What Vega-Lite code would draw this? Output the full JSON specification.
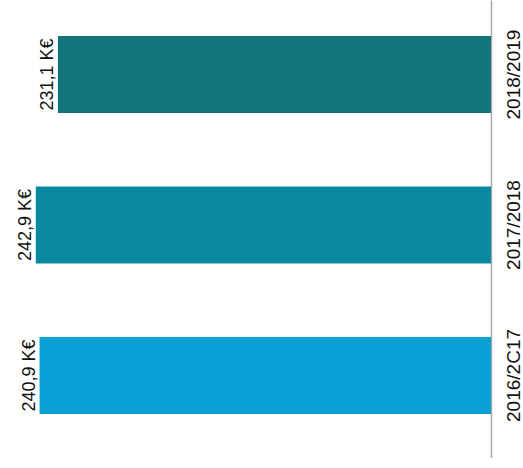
{
  "$schema": "https://vega.github.io/schema/vega-lite/v6.json",
  "width": 491,
  "height": 458,
  "padding": 0,
  "background": "white",
  "config": {"view": {"stroke": null}},
  "data": {"values": [
    {"year": "2018/2019", "value": 231.1, "label": "231,1 K€"},
    {"year": "2017/2018", "value": 242.9, "label": "242,9 K€"},
    {"year": "2016/2C17", "value": 240.9, "label": "240,9 K€"}
  ]},
  "encoding": {
    "y": {
      "field": "year", "type": "nominal",
      "sort": ["2018/2019", "2017/2018", "2016/2C17"],
      "scale": {"paddingInner": 0.488, "paddingOuter": 0.266, "align": 0.45},
      "axis": {
        "orient": "right", "title": null, "ticks": false,
        "labelAngle": 270, "labelAlign": "center", "labelBaseline": "top",
        "labelPadding": 13, "labelFont": "Liberation Sans", "labelFontSize": 19,
        "labelColor": "#111111", "domainColor": "#aaaaaa", "domainWidth": 1.5, "grid": false
      }
    },
    "x": {"field": "value", "type": "quantitative", "scale": {"domain": [0, 262], "reverse": true}, "axis": null}
  },
  "layer": [
    {
      "mark": {"type": "bar"},
      "encoding": {
        "color": {"field": "year", "type": "nominal", "legend": null,
          "scale": {"domain": ["2018/2019", "2017/2018", "2016/2C17"], "range": ["#13747A", "#08899F", "#07A0D5"]}}
      }
    },
    {
      "mark": {"type": "text", "angle": 270, "align": "center", "baseline": "alphabetic", "dy": -5,
        "font": "Liberation Sans", "fontSize": 18, "color": "#111111"},
      "encoding": {"text": {"field": "label"}}
    }
  ]
}
